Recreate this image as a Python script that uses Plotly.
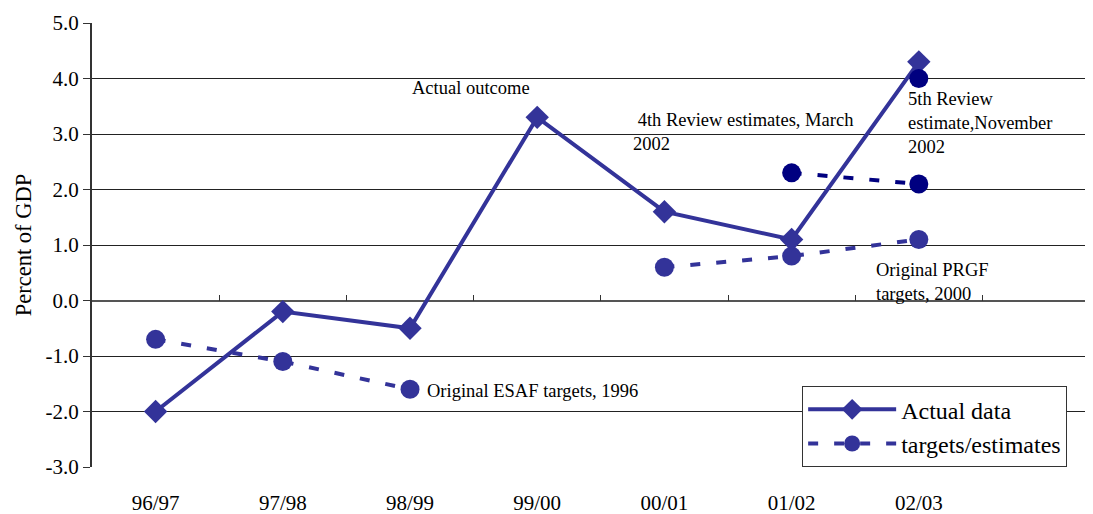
import plotly.graph_objects as go

categories = ["96/97", "97/98", "98/99", "99/00", "00/01", "01/02", "02/03"]
actual = [-2.0, -0.2, -0.5, 3.3, 1.6, 1.1, 4.3]
esaf_cats = ["96/97", "97/98", "98/99"]
esaf_vals = [-0.7, -1.1, -1.6]
prgf_cats = ["00/01", "01/02", "02/03"]
prgf_vals = [0.6, 0.8, 1.1]
rev4_cats = ["01/02", "02/03"]
rev4_vals = [2.3, 2.1]
rev5_cats = ["02/03"]
rev5_vals = [4.0]
yticks = [-3, -2, -1, 0, 1, 2, 3, 4, 5]

C1 = "#333399"
C2 = "#000080"
FONT = "Liberation Serif"
DASH = "10px,16px"
XR = [-0.5, 7.33]
YR = [-3, 5]

fig = go.Figure()

def idx(cats):
    return [categories.index(c) for c in cats]

fig.add_trace(go.Scatter(x=idx(esaf_cats), y=esaf_vals, mode="lines+markers",
                         name="targets/estimates",
                         line=dict(color=C1, width=4, dash=DASH),
                         marker=dict(symbol="circle", size=19, color=C1)))
fig.add_trace(go.Scatter(x=idx(prgf_cats), y=prgf_vals, mode="lines+markers",
                         showlegend=False,
                         line=dict(color=C1, width=4, dash=DASH),
                         marker=dict(symbol="circle", size=19, color=C1)))
fig.add_trace(go.Scatter(x=idx(rev4_cats), y=rev4_vals, mode="lines+markers",
                         showlegend=False,
                         line=dict(color=C2, width=4, dash=DASH),
                         marker=dict(symbol="circle", size=19, color=C2)))
fig.add_trace(go.Scatter(x=idx(categories), y=actual, mode="lines+markers",
                         name="Actual data",
                         line=dict(color=C1, width=4),
                         marker=dict(symbol="diamond", size=18, color=C1)))
# same range as x, so it lands on the same spot; this axis carries the zero-line ticks
fig.add_trace(go.Scatter(x=idx(rev5_cats), y=rev5_vals, mode="markers",
                         showlegend=False, xaxis="x2",
                         marker=dict(symbol="circle", size=19, color=C2)))

def note(x, y, text):
    fig.add_annotation(x=x, y=y, xref="x", yref="y", text=text, showarrow=False,
                       xanchor="left", yanchor="middle", align="left",
                       font=dict(family=FONT, size=18.5, color="black"))

note(2.0, 3.83, "Actual outcome")
note(3.74, 3.04, "\u00a04th Review estimates, March<br>2002")
note(5.9, 3.2, "5th Review<br>estimate,November<br>2002")
note(5.65, 0.33, "Original PRGF<br>targets, 2000")
note(2.12, -1.63, "Original ESAF targets, 1996")

# page body has an 8px margin: shrink figure so plot area lands where the reference has it
fig.update_layout(
    width=1085, height=506,
    margin=dict(l=84, r=5, t=15, b=47),
    paper_bgcolor="white", plot_bgcolor="white",
    font=dict(family=FONT, size=21, color="black"),
    legend=dict(x=0.713, y=0.182, xanchor="left", yanchor="top",
                bgcolor="white", bordercolor="#333", borderwidth=1,
                font=dict(family=FONT, size=24), traceorder="reversed",
                itemwidth=88, tracegroupgap=0),
    xaxis2=dict(overlaying="x", anchor="free", position=(0 - YR[0]) / (YR[1] - YR[0]),
                side="bottom", range=XR, tickmode="array",
                tickvals=[i + 0.5 for i in range(len(categories))],
                ticks="inside", ticklen=6, tickwidth=1, tickcolor="#333",
                showticklabels=False, showgrid=False, zeroline=False, showline=False),
)
fig.layout.xaxis.update(range=XR, tickmode="array",
                        tickvals=list(range(len(categories))), ticktext=categories,
                        showgrid=False, zeroline=False, showline=False,
                        ticks="outside", ticklen=17, tickcolor="rgba(0,0,0,0)",
                        automargin=False,
                        tickfont=dict(family=FONT, size=21))
fig.update_yaxes(range=YR, tickmode="array", tickvals=yticks,
                 ticktext=[f"{v:.1f}" for v in yticks],
                 showgrid=True, gridcolor="#222", gridwidth=1,
                 zeroline=True, zerolinecolor="#555", zerolinewidth=1.5,
                 showline=True, linecolor="#333", linewidth=2,
                 ticks="outside", ticklen=7, tickcolor="#333",
                 automargin=False,
                 title=dict(text="Percent of GDP", font=dict(family=FONT, size=22.5), standoff=8),
                 tickfont=dict(family=FONT, size=21))

fig.write_html("out.html")
